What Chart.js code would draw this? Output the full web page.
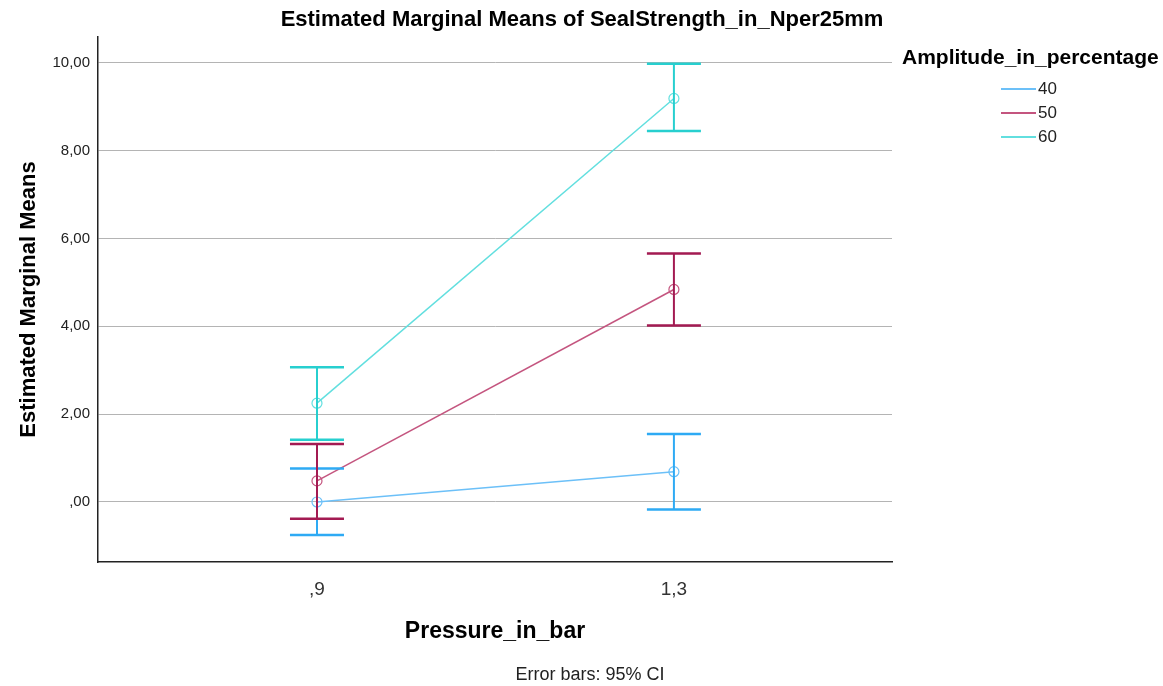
<!DOCTYPE html>
<html>
<head>
<meta charset="utf-8">
<script src="https://cdn.jsdelivr.net/npm/chart.js@4.4.1/dist/chart.umd.min.js"></script>
<style>
  html, body { margin: 0; padding: 0; background: #fff; }
  #wrap { width: 1163px; height: 686px; }
</style>
</head>
<body>
<div id="wrap"><canvas id="emmChart" width="1163" height="686"></canvas></div>
<script>
// pressure levels (x categories)
const pressureLabels = [',9', '1,3'];
const amplitudes = ['40', '50', '60'];

// estimated marginal means per amplitude
const means40 = [0.00, 0.69];
const means50 = [0.48, 4.84];
const means60 = [2.25, 9.19];

// 95% CI bounds
const lower40 = [-0.75, -0.17];
const upper40 = [0.76, 1.55];
const lower50 = [-0.38, 4.02];
const upper50 = [1.32, 5.66];
const lower60 = [1.42, 8.45];
const upper60 = [3.07, 9.98];

const yTicks = [0, 2, 4, 6, 8, 10];

const lineColors = ['#6cc0f8', '#c4557f', '#62dfdf'];
const barColors = ['#2eaaf4', '#a31a52', '#27cfcf'];

const seriesMeans = [means40, means50, means60];
const seriesLower = [lower40, lower50, lower60];
const seriesUpper = [upper40, upper50, upper60];

const FONT = '"Liberation Sans", Arial, sans-serif';

// error bars drawn from the scales
const errorBars = {
  id: 'errorBars',
  afterDatasetsDraw(chart) {
    const { ctx, scales: { x, y } } = chart;
    ctx.save();
    seriesMeans.forEach((m, i) => {
      ctx.strokeStyle = barColors[i];
      m.forEach((v, j) => {
        const px = x.getPixelForValue(j);
        const top = y.getPixelForValue(seriesUpper[i][j]);
        const bot = y.getPixelForValue(seriesLower[i][j]);
        ctx.lineWidth = 2;
        ctx.beginPath();
        ctx.moveTo(px, top);
        ctx.lineTo(px, bot);
        ctx.stroke();
        ctx.lineWidth = 2.5;
        ctx.beginPath();
        ctx.moveTo(px - 27, top);
        ctx.lineTo(px + 27, top);
        ctx.moveTo(px - 27, bot);
        ctx.lineTo(px + 27, bot);
        ctx.stroke();
      });
    });
    ctx.restore();
  }
};

// titles, legend and footnote
const extraText = {
  id: 'extraText',
  afterDraw(chart) {
    const { ctx, chartArea } = chart;
    ctx.save();
    ctx.fillStyle = '#000';
    ctx.textBaseline = 'middle';

    ctx.font = 'bold 22px ' + FONT;
    ctx.textAlign = 'center';
    ctx.fillText('Estimated Marginal Means of SealStrength_in_Nper25mm', 582, 20);

    ctx.font = 'bold 23px ' + FONT;
    ctx.fillText('Pressure_in_bar', (chartArea.left + chartArea.right) / 2, 632);

    ctx.save();
    ctx.font = 'bold 22px ' + FONT;
    ctx.translate(29, (chartArea.top + chartArea.bottom) / 2);
    ctx.rotate(-Math.PI / 2);
    ctx.fillText('Estimated Marginal Means', 0, 0);
    ctx.restore();

    ctx.font = '18px ' + FONT;
    ctx.fillStyle = '#222';
    ctx.fillText('Error bars: 95% CI', 590, 675);

    // legend
    ctx.fillStyle = '#000';
    ctx.font = 'bold 21px ' + FONT;
    ctx.textAlign = 'left';
    ctx.fillText('Amplitude_in_percentage', 902, 58);
    ctx.font = '17px ' + FONT;
    amplitudes.forEach((a, i) => {
      const yy = 89 + i * 24;
      ctx.strokeStyle = lineColors[i];
      ctx.lineWidth = 2;
      ctx.beginPath();
      ctx.moveTo(1001, yy);
      ctx.lineTo(1036, yy);
      ctx.stroke();
      ctx.fillStyle = '#222';
      ctx.fillText(a, 1038, yy);
    });
    ctx.restore();
  }
};

const datasets = seriesMeans.map((m, i) => ({
  label: amplitudes[i],
  data: m.map((v, j) => ({ x: j, y: v })),
  borderColor: lineColors[i],
  backgroundColor: 'rgba(0,0,0,0)',
  borderWidth: 1.5,
  pointRadius: 5,
  pointBorderWidth: 1.2,
  pointBorderColor: lineColors[i],
  pointBackgroundColor: 'rgba(0,0,0,0)',
  tension: 0
}));

new Chart(document.getElementById('emmChart'), {
  type: 'line',
  data: { datasets },
  plugins: [errorBars, extraText],
  options: {
    responsive: false,
    animation: false,
    layout: { padding: { left: 0, top: 37, right: 271, bottom: 0 } },
    plugins: { legend: { display: false }, title: { display: false }, tooltip: { enabled: false } },
    scales: {
      x: {
        type: 'linear',
        min: -0.6135,
        max: 1.611,
        afterBuildTicks(scale) {
          scale.ticks = pressureLabels.map((l, i) => ({ value: i }));
        },
        afterFit(scale) { scale.height = 124; },
        grid: { display: false, drawTicks: false },
        border: { display: true, color: '#222', width: 1.5 },
        ticks: {
          padding: 16,
          color: '#333',
          font: { family: FONT, size: 19 },
          callback: (v) => pressureLabels[v]
        }
      },
      y: {
        min: -1.367,
        max: 10.59,
        afterBuildTicks(scale) {
          scale.ticks = yTicks.map(v => ({ value: v }));
        },
        afterFit(scale) { scale.width = 98; },
        grid: { color: '#b4b4b4', lineWidth: 1, drawTicks: false },
        border: { display: true, color: '#222', width: 1.5 },
        ticks: {
          padding: 8,
          color: '#222',
          font: { family: FONT, size: 15 },
          callback: (v) => v.toFixed(2).replace('.', ',').replace(/^0/, '')
        }
      }
    }
  }
});
</script>
</body>
</html>
